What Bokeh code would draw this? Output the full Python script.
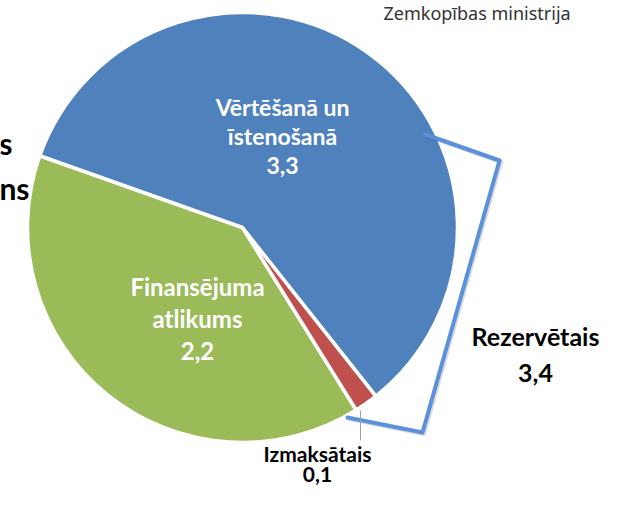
import numpy as np
from bokeh.plotting import figure
from bokeh.models import Range1d, ColumnDataSource
from bokeh.embed import file_html
from bokeh.resources import INLINE
from bokeh.core.properties import value

# ---- data ----
categories = ["Finansējuma atlikums", "Izmaksātais", "Vērtēšanā un īstenošanā"]
values = [2.2, 0.1, 3.3]
value_labels = ["2,2", "0,1", "3,3"]
colors = ["#9BBB59", "#C0504D", "#4F81BD"]
reserved_label = "Rezervētais"
reserved_value = "3,4"
source_note = "Zemkopības ministrija"
title_fragments = ["s", "ns"]

# ---- geometry (reference pixel space, y flipped) ----
W, H = 601, 489
def Y(py):
    return H - py

p = figure(width=W, height=H, x_range=Range1d(0, W), y_range=Range1d(0, H),
           output_backend="svg", toolbar_location=None, min_border=0)
p.axis.visible = False
p.grid.visible = False
p.outline_line_color = None
p.background_fill_color = "white"
p.border_fill_color = "white"

cx, cy, r = 242, Y(227), 215
start0 = np.radians(160.5)
vals = np.array(values)
ang = vals / vals.sum() * 2 * np.pi
ends = start0 + np.cumsum(ang)
starts = ends - ang
src = ColumnDataSource(dict(cat=categories, start=starts, end=ends, color=colors))
p.wedge(x=cx, y=cy, radius=r, start_angle="start", end_angle="end",
        fill_color="color", line_color="white", line_width=3.5, source=src)

# bracket for "Rezervētais"
bx = np.array([425, 499, 422, 347])
by = np.array([134, 160, 432, 417])
p.line(bx + 1.5, Y(by + 1.5), line_width=4, line_color="black", line_alpha=0.15,
       line_join="round", line_cap="round")
p.line(bx, Y(by), line_width=4, line_color="#5B91DA", line_join="round", line_cap="round")

# leader line for Izmaksātais
p.line([360, 360], [Y(410), Y(440)], line_color="#A0A0A0", line_width=1)

font = value("Lato")
# in-slice labels
blue_lines = ["Vērtēšanā un", "īstenošanā", value_labels[2]]
green_lines = ["Finansējuma", "atlikums", value_labels[0]]
p.text(x=[282, 282, 282], y=[Y(106), Y(135), Y(165)], text=blue_lines,
       text_font=font, text_font_style="bold", text_font_size="23px",
       text_color="white", text_align="center", text_baseline="alphabetic")
p.text(x=[197, 197, 197], y=[Y(286), Y(318), Y(350)], text=green_lines,
       text_font=font, text_font_style="bold", text_font_size="24px",
       text_color="white", text_align="center", text_baseline="alphabetic")

# outside labels
p.text(x=[535, 535], y=[Y(335), Y(372)], text=[reserved_label, reserved_value],
       text_font=font, text_font_style="bold", text_font_size="25px",
       text_color="black", text_align="center", text_baseline="alphabetic")
p.text(x=[317, 317], y=[Y(453), Y(474)], text=[categories[1], value_labels[1]],
       text_font=font, text_font_style="bold", text_font_size="21px",
       text_color="black", text_align="center", text_baseline="alphabetic")

# source note
p.text(x=[383], y=[Y(12)], text=[source_note], text_font=value("Noto Sans"),
       text_font_size="18px", text_color="#333333", text_align="left",
       text_baseline="alphabetic")

# cut-off title fragments on the left
p.text(x=[12, 29], y=[Y(142), Y(187)], text=title_fragments, text_font=font,
       text_font_style="bold", text_font_size="30px", text_color="black",
       text_align="right", text_baseline="alphabetic")

open("out.html", "w").write(file_html(p, INLINE))
